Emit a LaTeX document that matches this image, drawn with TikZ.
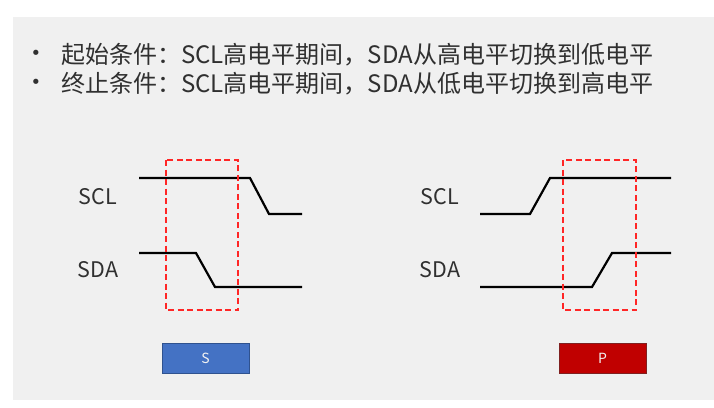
\documentclass[tikz,border=0pt]{standalone}
\usepackage{fontspec}
\setmainfont{Noto Sans CJK SC}
\newfontfamily\dvfont{DejaVu Sans}
\definecolor{bg}{HTML}{F0F0F0}
\definecolor{sblue}{HTML}{4472C4}
\definecolor{sblueb}{HTML}{2F528F}
\definecolor{pred}{HTML}{C00000}
\definecolor{predb}{HTML}{7F2020}
\definecolor{txt}{HTML}{303030}
\begin{document}
\begin{tikzpicture}[x=1pt,y=-1pt,
  wave/.style={line width=2.2pt,black},
  window/.style={draw=red!85,line width=1.3pt,dash pattern=on 6pt off 3.5pt},
  sig/.style={font=\fontsize{21.5}{26}\selectfont,text=txt},
  bul/.style={font=\fontsize{24}{28}\selectfont,text=txt,anchor=west,inner sep=0pt},
  dot/.style={font=\dvfont\fontsize{18}{22}\selectfont,text=txt,inner sep=0pt},
  tag/.style={draw=#1,line width=0.7pt,minimum width=87pt,minimum height=30pt,inner sep=0pt,text=white!90!gray,font=\fontsize{14}{16}\selectfont}]
\useasboundingbox (0,0) rectangle (714,407);
\fill[white] (0,0) rectangle (714,407);
\fill[bg] (13,17) rectangle (714,400);
% bullets
\node[dot] (d1) at (36,55) {•};
\node[dot] (d2) at (36,84) {•};
\node[bul] (b1) at (61,55) {起始条件：SCL高电平期间，SDA从高电平切换到低电平};
\node[bul] (b2) at (61,84) {终止条件：SCL高电平期间，SDA从低电平切换到高电平};
% left: start
\node[sig] (sclL) at (98,197) {SCL};
\node[sig] (sdaL) at (98,270) {SDA};
\draw[wave] (139,178) -- (250,178) -- (269,214) -- (302,214);
\draw[wave] (139,253) -- (196,253) -- (215,287) -- (302,287);
\draw[window] (166,160) rectangle (238,310);
\node[tag=sblueb,fill=sblue] (S) at (205.5,358) {S};
% right: stop
\node[sig] (sclR) at (440,197) {SCL};
\node[sig] (sdaR) at (440,270) {SDA};
\draw[wave] (480,214) -- (530,214) -- (550,178) -- (671,178);
\draw[wave] (480,287) -- (592,287) -- (612,253) -- (671,253);
\draw[window] (563,160) rectangle (636,310);
\node[tag=predb,fill=pred] (P) at (602.5,358) {P};
\end{tikzpicture}
\end{document}
